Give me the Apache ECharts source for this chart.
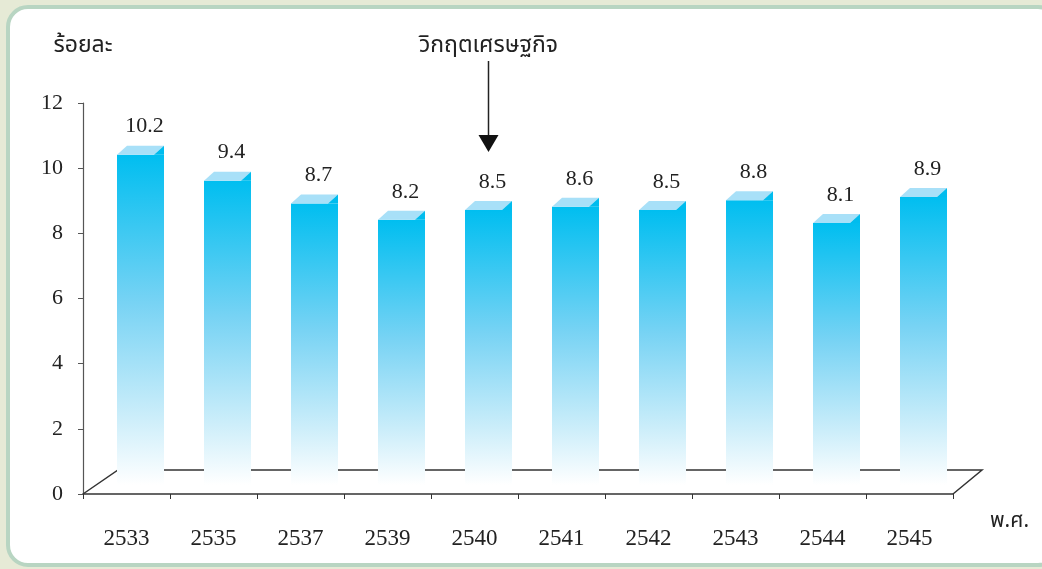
<!DOCTYPE html>
<html>
<head>
<meta charset="utf-8">
<script src="https://cdn.jsdelivr.net/npm/echarts@6/dist/echarts.min.js"></script>
<style>
  html, body { margin: 0; padding: 0; background: #e6ead6; }
  #chart { width: 1042px; height: 569px; }
</style>
</head>
<body>
<div id="chart"></div>
<script>
// years (Buddhist era) and rate in percent
const years = ['2533', '2535', '2537', '2539', '2540', '2541', '2542', '2543', '2544', '2545'];
const rates = [10.2, 9.4, 8.7, 8.2, 8.5, 8.6, 8.5, 8.8, 8.1, 8.9];
const yMin = 0;
const yMax = 12;
const yStep = 2;
const crisisYear = '2540';
const crisisLabel = 'วิกฤตเศรษฐกิจ';
const yName = 'ร้อยละ';
const xName = 'พ.ศ.';

const serif = "'Liberation Serif', 'DejaVu Serif', serif";
const thai = "'Noto Sans Thai', 'Loma', 'Garuda', 'DejaVu Sans', 'Noto Sans', sans-serif";

// layout of plot area
const grid = { left: 83, top: 103, width: 870, height: 391 };
const floorDx = 35;
const floorDy = 24;

const chart = echarts.init(document.getElementById('chart'));

const renderBar = (params, api) => {
  const idx = api.value(0);
  const val = api.value(1);
  const base = api.coord([idx, 0]);
  const top = api.coord([idx, val]);
  const top12 = api.coord([idx, yMax]);
  const w = 47;
  const dx = 14;
  const depthX = 10;
  const depthY = 9;
  const cx = base[0] + dx;
  const x0 = cx - w / 2;
  const yT = top[1] - 7;
  const yB = base[1] - 9;

  const children = [
    {
      type: 'rect',
      shape: { x: x0, y: yT, width: w, height: yB - yT },
      style: {
        fill: new echarts.graphic.LinearGradient(0, 0, 0, 1, [
          { offset: 0, color: '#00bef0' },
          { offset: 0.45, color: '#78d3f4' },
          { offset: 0.8, color: '#cdeefa' },
          { offset: 1, color: '#ffffff' },
        ]),
      },
    },
    {
      type: 'polygon',
      shape: { points: [[x0, yT], [x0 + depthX, yT - depthY], [x0 + w, yT - depthY], [x0 + w - depthX, yT]] },
      style: { fill: '#a8e0f8' },
    },
    {
      type: 'polygon',
      shape: { points: [[x0 + w - depthX, yT], [x0 + w, yT - depthY], [x0 + w, yT]] },
      style: { fill: '#00bcee' },
    },
    {
      type: 'text',
      style: {
        x: cx + 4,
        y: yT - 28,
        text: val.toFixed(1),
        fill: '#222',
        font: '22px ' + serif,
        align: 'center',
        verticalAlign: 'middle',
      },
    },
  ];

  if (years[idx] === crisisYear) {
    const gt = top12[1];
    children.push(
      {
        type: 'line',
        shape: { x1: cx, y1: gt - 42, x2: cx, y2: gt + 34 },
        style: { stroke: '#222', lineWidth: 1.5 },
      },
      {
        type: 'polygon',
        shape: { points: [[cx - 10, gt + 32], [cx + 10, gt + 32], [cx, gt + 49]] },
        style: { fill: '#111' },
      },
      {
        type: 'text',
        style: {
          x: cx,
          y: gt - 56,
          text: crisisLabel,
          fill: '#222',
          font: '23px ' + thai,
          align: 'center',
          verticalAlign: 'middle',
        },
      }
    );
  }

  return { type: 'group', children };
};

const gl = grid.left;
const gr = grid.left + grid.width;
const gb = grid.top + grid.height;

const option = {
  backgroundColor: '#e6ead6',
  animation: false,
  grid: grid,
  graphic: [
    {
      type: 'rect',
      z: -10,
      shape: { x: 8, y: 7, width: 1050, height: 558, r: 20 },
      style: { fill: '#ffffff', stroke: '#b8d5c2', lineWidth: 4 },
    },
    {
      type: 'polyline',
      z: 1,
      shape: { points: [[gl, gb], [gl + floorDx, gb - floorDy], [gr + floorDx - 6, gb - floorDy], [gr, gb]] },
      style: { stroke: '#333', lineWidth: 1.5, fill: null },
    },
  ],
  xAxis: {
    type: 'category',
    data: years,
    name: xName,
    nameLocation: 'end',
    nameGap: 37,
    nameTextStyle: {
      color: '#222',
      fontSize: 21,
      fontFamily: thai,
      align: 'left',
      verticalAlign: 'top',
      padding: [18, 0, 0, 0],
    },
    axisLine: { lineStyle: { color: '#333', width: 1.5 } },
    axisTick: { show: true, length: 5, lineStyle: { color: '#333' } },
    axisLabel: {
      color: '#222',
      fontSize: 23,
      fontFamily: serif,
      margin: 33,
    },
  },
  yAxis: {
    type: 'value',
    min: yMin,
    max: yMax,
    interval: yStep,
    name: yName,
    nameLocation: 'end',
    nameGap: 56,
    nameTextStyle: {
      color: '#222',
      fontSize: 23,
      fontFamily: thai,
      align: 'center',
      verticalAlign: 'middle',
    },
    axisLine: { show: true, lineStyle: { color: '#555', width: 1.2 } },
    axisTick: { show: true, length: 5, lineStyle: { color: '#555' } },
    splitLine: { show: false },
    axisLabel: {
      color: '#222',
      fontSize: 22,
      fontFamily: serif,
      margin: 20,
    },
  },
  series: [
    {
      type: 'custom',
      z: 2,
      renderItem: renderBar,
      encode: { x: 0, y: 1 },
      data: rates.map((v, i) => [i, v]),
    },
  ],
};

chart.setOption(option);
</script>
</body>
</html>
